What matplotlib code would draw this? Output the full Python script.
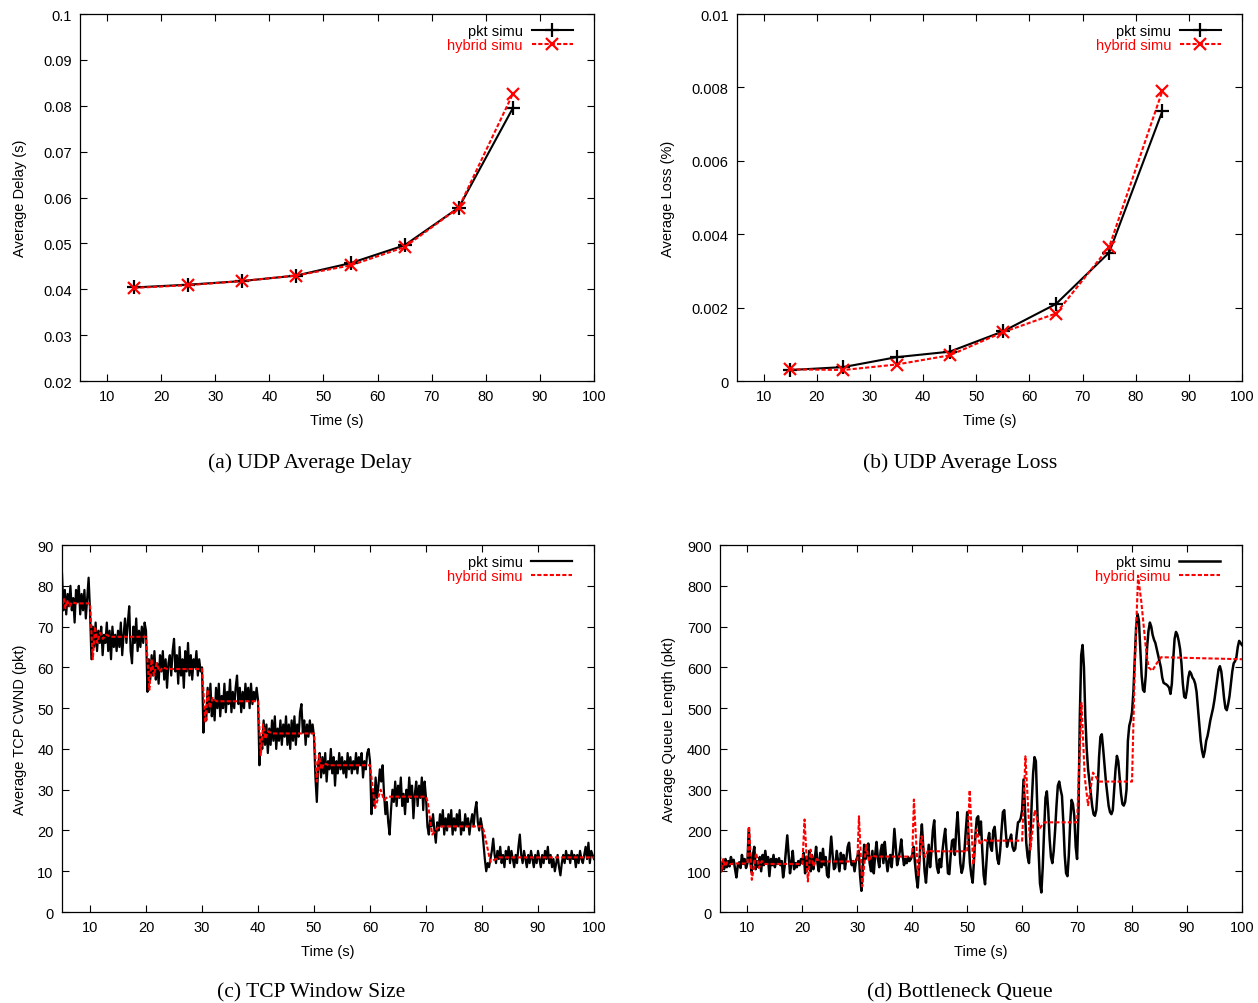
import matplotlib
matplotlib.use("Agg")
import matplotlib.pyplot as plt
import numpy as np
from matplotlib.ticker import FuncFormatter, MultipleLocator

plt.rcParams["font.family"] = ["Liberation Sans", "DejaVu Sans"]
plt.rcParams["font.size"] = 10.5

RED = "#ff0000"

# (a) and (b): UDP averages, one point every 10 s
udp_time = [15, 25, 35, 45, 55, 65, 75, 85]
delay_pkt = [0.0404, 0.0410, 0.0418, 0.0430, 0.0457, 0.0496, 0.0578, 0.0795]
delay_hybrid = [0.0403, 0.0409, 0.0418, 0.0430, 0.0452, 0.0492, 0.0578, 0.0826]
loss_pkt = [0.00030, 0.00038, 0.00065, 0.00080, 0.00135, 0.00210, 0.00350, 0.00735]
loss_hybrid = [0.00032, 0.00030, 0.00045, 0.00070, 0.00133, 0.00184, 0.00365, 0.00790]

# (c) TCP cwnd, packet simulation, sampled every 0.25 s from 5 s to 100 s
cwnd_pkt = [
    83, 74, 79, 73, 78, 75, 80, 74, 77, 71, 79, 76, 80, 73, 78, 74, 79, 72, 77, 82,
    74, 62, 70, 65, 71, 64, 69, 66, 70, 63, 68, 66, 71, 64, 69, 62, 70, 65, 68, 64,
    69, 65, 71, 63, 68, 72, 66, 71, 75, 64, 61, 70, 66, 72, 64, 69, 65, 70, 66, 71,
    69, 54, 62, 57, 63, 58, 64, 57, 61, 56, 63, 59, 64, 57, 62, 55, 61, 63, 58, 64,
    67, 59, 63, 56, 65, 58, 62, 55, 64, 59, 66, 58, 63, 57, 62, 60, 64, 58, 62, 59,
    60, 44, 50, 47, 55, 49, 56, 48, 52, 47, 55, 50, 56, 48, 53, 50, 56, 49, 54, 51,
    57, 49, 54, 50, 55, 58, 51, 55, 49, 54, 50, 56, 52, 55, 50, 56, 51, 54, 52, 55,
    52, 36, 43, 40, 47, 41, 46, 39, 45, 41, 47, 42, 48, 40, 45, 42, 47, 41, 46, 43,
    48, 41, 46, 40, 47, 42, 48, 41, 46, 43, 49, 51, 44, 47, 41, 46, 43, 47, 44, 46,
    43, 33, 27, 36, 39, 33, 38, 34, 39, 32, 37, 35, 40, 34, 38, 31, 37, 34, 39, 35,
    38, 34, 37, 33, 39, 35, 38, 34, 37, 35, 39, 34, 38, 36, 39, 33, 37, 35, 39, 40,
    37, 24, 30, 26, 33, 28, 31, 35, 32, 36, 29, 24, 27, 22, 19, 25, 30, 27, 32, 26,
    31, 28, 33, 26, 29, 24, 30, 27, 33, 28, 31, 23, 29, 32, 26, 31, 28, 33, 25, 32,
    28, 21, 19, 23, 21, 24, 20, 17, 22, 20, 24, 21, 25, 19, 23, 20, 24, 21, 25, 19,
    23, 20, 24, 21, 25, 19, 22, 20, 24, 21, 23, 19, 22, 24, 21, 25, 27, 22, 20, 23,
    21, 17, 13, 10, 12, 11, 13, 15, 18, 14, 12, 15, 13, 16, 12, 14, 11, 15, 13, 16,
    12, 15, 13, 11, 14, 12, 16, 19, 14, 12, 15, 13, 11, 14, 12, 15, 13, 11, 14, 12,
    15, 13, 11, 14, 12, 15, 13, 16, 12, 14, 11, 13, 10, 12, 14, 11, 9, 12, 14, 12,
    15, 13, 14, 12, 15, 13, 14, 11, 14, 12, 15, 13, 12, 14, 16, 13, 17, 12, 15, 14,
    13,
]

# (c) TCP cwnd, hybrid simulation (breakpoints)
cwnd_hybrid_time = [5.0, 5.3, 5.6, 5.9, 6.3, 6.8, 7.5,
                    10.0, 10.5, 10.9, 11.3, 11.8, 12.3, 12.9, 13.7,
                    20.0, 20.6, 21.0, 21.4, 21.9, 22.4, 23.0, 23.8,
                    30.0, 30.6, 31.0, 31.4, 31.9, 32.6,
                    40.0, 40.5, 40.9, 41.3, 41.8, 42.6,
                    50.0, 50.5, 50.9, 51.3, 51.8, 52.6,
                    60.0, 60.9, 61.9, 62.5, 63.2,
                    70.0, 70.3, 71.1, 72.3,
                    80.0, 80.3, 81.5, 83.0, 100.0]
cwnd_hybrid = [74, 77, 74.5, 76.5, 75, 76, 75.7,
               75.7, 62, 70, 66, 68.5, 67, 68, 67.5,
               67.5, 54.5, 62, 58, 61, 59, 60, 59.6,
               59.6, 46.5, 54.5, 50, 52.5, 51.7,
               51.7, 38.5, 46, 42.5, 44.3, 43.8,
               43.8, 32, 38.5, 35, 36.5, 36,
               36, 25.5, 30, 27.5, 28.3,
               28.3, 27, 19, 21,
               21, 20, 12.3, 13.4, 13.4]

# (d) bottleneck queue, packet simulation, sampled every 0.25 s from 5 s to 100 s
queue_pkt = [
    125, 100, 120, 105, 130, 110, 125, 112, 135, 118, 128, 105, 85, 115, 122, 108, 140, 118, 130, 108,
    120, 205, 130, 98, 140, 160, 105, 125, 110, 135, 100, 140, 115, 150, 120, 135, 88, 130, 115, 140,
    110, 130, 118, 132, 115, 125, 85, 110, 150, 188, 140, 95, 120, 150, 105, 120, 110, 125, 115, 130,
    120, 145, 95, 135, 110, 150, 100, 140, 105, 130, 160, 120, 100, 145, 110, 155, 115, 135, 90, 85,
    140, 185, 140, 105, 110, 150, 125, 100, 145, 120, 140, 105, 130, 160, 170, 130, 115, 125, 100, 125,
    135, 150, 90, 52, 110, 165, 130, 140, 168, 120, 100, 150, 95, 140, 172, 130, 110, 150, 165, 120,
    172, 130, 100, 125, 140, 110, 150, 204, 160, 115, 130, 150, 178, 140, 115, 130, 120, 135, 125, 130,
    140, 160, 120, 85, 60, 110, 170, 215, 160, 100, 72, 120, 165, 110, 150, 200, 225, 150, 110, 96,
    130, 110, 150, 180, 204, 150, 95, 93, 140, 175, 178, 140, 200, 245, 180, 120, 96, 110, 150, 200,
    245, 180, 120, 90, 72, 130, 190, 230, 235, 190, 222, 150, 90, 68, 120, 175, 194, 160, 150, 200,
    209, 170, 130, 118, 150, 200, 245, 250, 200, 160, 175, 178, 190, 160, 150, 155, 190, 220, 222, 230,
    250, 325, 260, 170, 135, 120, 180, 270, 340, 380, 370, 260, 150, 70, 48, 110, 200, 280, 296, 250,
    180, 135, 120, 150, 200, 260, 310, 320, 300, 285, 220, 140, 95, 88, 140, 220, 275, 265, 235, 160,
    130, 240, 480, 630, 655, 600, 480, 400, 351, 320, 290, 260, 240, 236, 250, 300, 380, 430, 436, 400,
    360, 320, 290, 260, 245, 240, 250, 300, 350, 383, 370, 330, 290, 265, 261, 270, 300, 420, 457, 470,
    490, 540, 620, 700, 731, 715, 650, 580, 545, 540, 580, 650, 690, 710, 700, 680, 668, 660, 645, 630,
    615, 600, 575, 562, 560, 558, 555, 550, 535, 560, 620, 670, 687, 680, 665, 645, 610, 560, 528, 525,
    545, 575, 590, 585, 575, 570, 560, 540, 500, 460, 420, 395, 380, 395, 420, 432, 450, 470, 485, 500,
    520, 545, 570, 595, 603, 590, 560, 525, 500, 495, 510, 530, 560, 590, 610, 615, 625, 650, 665, 660,
    655,
]

# (d) bottleneck queue, hybrid simulation (breakpoints)
queue_hybrid_time = [5.0, 5.3, 5.6, 5.9, 6.3, 6.8, 7.5,
                     10.0, 10.3, 10.8, 11.6, 12.1, 12.6, 13.2,
                     20.0, 20.4, 21.0, 21.5, 22.0, 22.6, 23.2,
                     30.0, 30.3, 30.9, 31.6, 32.1, 32.7, 33.3,
                     40.0, 40.3, 41.05, 41.7, 42.3, 42.9, 43.5,
                     50.0, 50.45, 51.1, 51.7, 52.3, 52.9, 53.5,
                     60.0, 60.6, 61.5, 62.3, 63.2, 64.0,
                     70.0, 70.8, 71.4, 72.0, 72.9, 74.0,
                     80.0, 80.5, 81.1, 81.7, 82.5, 83.0, 83.7, 84.5, 85.3, 100.0]
queue_hybrid = [140, 100, 130, 112, 122, 117, 119,
                119, 210, 79, 145, 108, 125, 118,
                118, 227, 75, 153, 112, 130, 124,
                124, 235, 63, 165, 125, 140, 136,
                136, 276, 88, 186, 135, 152, 149,
                149, 299, 116, 202, 165, 178, 175,
                175, 382, 153, 250, 205, 220,
                220, 513, 330, 262, 342, 320,
                320, 600, 825, 760, 650, 600, 592, 610, 625, 620]

series_time = np.arange(len(cwnd_pkt)) * 0.25 + 5.0


def style_axes(ax, ylim, ystep):
    ax.set_xlim(5, 100)
    ax.set_ylim(*ylim)
    ax.set_xticks(np.arange(10, 101, 10))
    ax.yaxis.set_major_locator(MultipleLocator(ystep))
    ax.yaxis.set_major_formatter(FuncFormatter(lambda v, p: "%g" % round(v, 6)))
    ax.tick_params(direction="in", top=True, right=True, length=5, width=0.8,
                   pad=6, labelsize=10.5)
    for sp in ax.spines.values():
        sp.set_linewidth(0.9)


def add_legend(ax):
    # gnuplot style key: text on the left, right-aligned, sample on the right
    leg = ax.legend(loc="upper right", bbox_to_anchor=(0.978, 1.0), frameon=False,
                    markerfirst=False, handlelength=2.8, handletextpad=0.6,
                    labelspacing=0.0, borderaxespad=0.3, fontsize=10.5, numpoints=1)
    for txt, col in zip(leg.get_texts(), ["black", RED]):
        txt.set_color(col)


fig = plt.figure(figsize=(12.58, 10.04), dpi=100)

ax_a = fig.add_axes([0.0636, 0.6195, 0.4086, 0.3655])
ax_b = fig.add_axes([0.5859, 0.6195, 0.4014, 0.3655])
ax_c = fig.add_axes([0.0493, 0.0906, 0.4229, 0.3655])
ax_d = fig.add_axes([0.5723, 0.0906, 0.4149, 0.3655])

# (a) delay
ax_a.plot(udp_time, delay_pkt, color="black", lw=1.5, marker="+", ms=10, mew=1.6,
          label="pkt simu")
ax_a.plot(udp_time, delay_hybrid, color=RED, lw=1.5, dashes=(2, 1), marker="x", ms=9,
          mew=1.6, label="hybrid simu")
style_axes(ax_a, (0.02, 0.1), 0.01)
ax_a.set_ylabel("Average Delay (s)")
ax_a.yaxis.set_label_coords(-0.103, 0.5)

# (b) loss
ax_b.plot(udp_time, loss_pkt, color="black", lw=1.5, marker="+", ms=10, mew=1.6,
          label="pkt simu")
ax_b.plot(udp_time, loss_hybrid, color=RED, lw=1.5, dashes=(2, 1), marker="x", ms=9,
          mew=1.6, label="hybrid simu")
style_axes(ax_b, (0, 0.01), 0.002)
ax_b.set_ylabel("Average Loss (%)")
ax_b.yaxis.set_label_coords(-0.123, 0.5)

# (c) cwnd
ax_c.plot(series_time, cwnd_pkt, color="black", lw=1.6, label="pkt simu")
ax_c.plot(cwnd_hybrid_time, cwnd_hybrid, color=RED, lw=1.5, dashes=(2, 1),
          label="hybrid simu")
style_axes(ax_c, (0, 90), 10)
ax_c.set_ylabel("Average TCP CWND (pkt)")
ax_c.yaxis.set_label_coords(-0.066, 0.5)

# (d) queue
ax_d.plot(series_time, queue_pkt, color="black", lw=1.8, label="pkt simu")
ax_d.plot(queue_hybrid_time, queue_hybrid, color=RED, lw=1.5, dashes=(2, 1),
          label="hybrid simu")
style_axes(ax_d, (0, 900), 100)
ax_d.set_ylabel("Average Queue Length (pkt)")
ax_d.yaxis.set_label_coords(-0.084, 0.5)

for ax in (ax_a, ax_b, ax_c, ax_d):
    ax.set_xlabel("Time (s)")
    ax.xaxis.set_label_coords(0.5, -0.088)
    add_legend(ax)

cap = dict(family=["Liberation Serif", "DejaVu Serif"], size=15.5, ha="center", va="center")
fig.text(0.2464, 0.5388, "(a) UDP Average Delay", **cap)
fig.text(0.7630, 0.5388, "(b) UDP Average Loss", **cap)
fig.text(0.2472, 0.0110, "(c) TCP Window Size", **cap)
fig.text(0.7630, 0.0110, "(d) Bottleneck Queue", **cap)

fig.savefig("out.png", dpi=100)
